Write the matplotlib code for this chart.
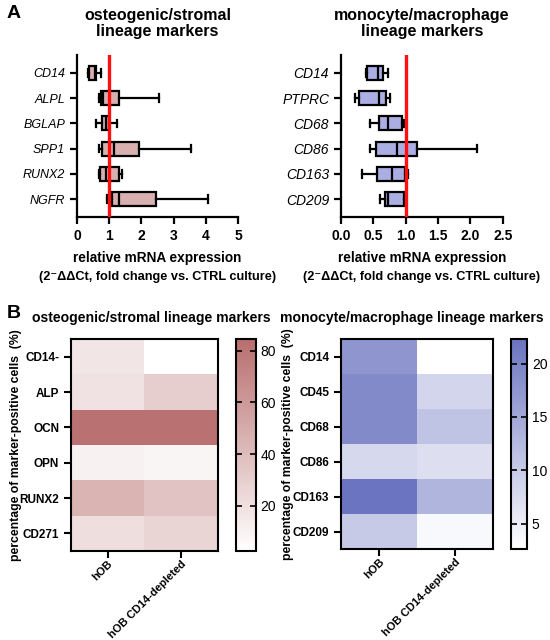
import matplotlib
matplotlib.use("Agg")
import matplotlib.pyplot as plt
import numpy as np
from matplotlib.colors import LinearSegmentedColormap

plt.rcParams['font.family'] = ['Liberation Sans', 'DejaVu Sans']

# --- panel A: qPCR box plots (min, q1, median, q3, max) ---
osteo_genes = ['CD14', 'ALPL', 'BGLAP', 'SPP1', 'RUNX2', 'NGFR']
osteo_min = [0.33, 0.69, 0.59, 0.69, 0.67, 0.93]
osteo_q1 = [0.38, 0.74, 0.79, 0.79, 0.70, 1.08]
osteo_med = [0.55, 0.82, 0.90, 1.16, 0.91, 1.29]
osteo_q3 = [0.59, 1.31, 1.00, 1.91, 1.30, 2.44]
osteo_max = [0.76, 2.55, 1.24, 3.53, 1.39, 4.05]

mono_genes = ['CD14', 'PTPRC', 'CD68', 'CD86', 'CD163', 'CD209']
mono_min = [0.39, 0.21, 0.45, 0.45, 0.33, 0.61]
mono_q1 = [0.40, 0.28, 0.58, 0.54, 0.55, 0.68]
mono_med = [0.57, 0.58, 0.73, 0.86, 0.79, 0.73]
mono_q3 = [0.65, 0.70, 0.94, 1.17, 0.99, 0.98]
mono_max = [0.73, 0.76, 0.97, 2.10, 1.04, 0.99]

# --- panel B: flow cytometry heatmaps (% positive cells) ---
groups = ['hOB', 'hOB CD14-depleted']
osteo_markers = ['CD14-', 'ALP', 'OCN', 'OPN', 'RUNX2', 'CD271']
osteo_hob = [17, 19, 82, 10, 45, 21]
osteo_depl = [2.5, 30, 82, 8, 36, 26]

mono_markers = ['CD14', 'CD45', 'CD68', 'CD86', 'CD163', 'CD209']
mono_hob = [17.5, 19, 19, 8, 22.3, 10]
mono_depl = [2.6, 8.5, 11, 7, 13, 3.5]

xlab1 = 'relative mRNA expression'
xlab2 = '(2\u207b\u0394\u0394Ct, fold change vs. CTRL culture)'

fig = plt.figure(figsize=(5.5, 6.4), dpi=100)


def box_panel(rect, genes, mn, q1, med, q3, mx, color, xmax, xticks, xticklabels, title, gsize):
    ax = fig.add_axes(rect)
    stats = []
    for i in range(len(genes)):
        stats.append(dict(whislo=mn[i], q1=q1[i], med=med[i], q3=q3[i], whishi=mx[i], label=genes[i]))
    ax.bxp(stats, positions=range(len(genes)), orientation='horizontal', widths=0.55,
           capwidths=0.3, showfliers=False, patch_artist=True,
           boxprops=dict(facecolor=color, edgecolor='black', linewidth=1.6),
           medianprops=dict(color='black', linewidth=1.6),
           whiskerprops=dict(color='black', linewidth=1.6),
           capprops=dict(color='black', linewidth=1.6))
    ax.axvline(1, color='#ff1010', linewidth=2.4, zorder=5)
    ax.set_ylim(5.7, -0.7)
    ax.set_xlim(0, xmax)
    ax.set_xticks(xticks)
    ax.set_xticklabels(xticklabels, fontweight='bold', fontsize=10)
    ax.set_yticks(range(len(genes)))
    ax.set_yticklabels(genes, fontstyle='italic', fontsize=gsize)
    for s in ['top', 'right']:
        ax.spines[s].set_visible(False)
    for s in ['left', 'bottom']:
        ax.spines[s].set_linewidth(1.6)
    ax.tick_params(width=1.6, length=5)
    ax.set_title(title, fontweight='bold', fontsize=11.5, pad=14, linespacing=1.05)
    cx = rect[0] + rect[2] / 2
    fig.text(cx, 1 - 258 / 640, xlab1, fontweight='bold', fontsize=9.8, ha='center', va='center')
    fig.text(cx, 1 - 277 / 640, xlab2, fontweight='bold', fontsize=9.2, ha='center', va='center')
    return ax


box_panel([0.140, 0.661, 0.293, 0.253], osteo_genes, osteo_min, osteo_q1, osteo_med,
          osteo_q3, osteo_max, '#d8b0b0', 5, [0, 1, 2, 3, 4, 5], ['0', '1', '2', '3', '4', '5'],
          'osteogenic/stromal\nlineage markers', 9)
box_panel([0.620, 0.661, 0.294, 0.253], mono_genes, mono_min, mono_q1, mono_med,
          mono_q3, mono_max, '#abaee2', 2.5, [0, 0.5, 1, 1.5, 2, 2.5],
          ['0.0', '0.5', '1.0', '1.5', '2.0', '2.5'],
          'monocyte/macrophage\nlineage markers', 10)


def heat_panel(rect, cbrect, markers, v1, v2, color, vmin, vmax, cticks, title, title_x, ylab_x):
    ax = fig.add_axes(rect)
    cmap = LinearSegmentedColormap.from_list('c', ['#ffffff', color])
    data = np.column_stack([v1, v2])
    im = ax.imshow(data, cmap=cmap, vmin=vmin, vmax=vmax, aspect='auto')
    ax.set_yticks(range(len(markers)))
    ax.set_yticklabels(markers, fontweight='bold', fontsize=8.5)
    ax.set_xticks([0, 1])
    ax.set_xticklabels(groups, fontweight='bold', fontsize=8, rotation=45,
                       ha='right', rotation_mode='anchor')
    for s in ax.spines.values():
        s.set_linewidth(1.5)
    ax.tick_params(width=1.5, length=5)
    ax.tick_params(axis='x', pad=0.5)
    ax.set_ylabel('percentage of marker-positive cells  (%)', fontweight='bold', fontsize=8.8)
    ax.yaxis.set_label_coords(ylab_x, 0.5)
    fig.text(title_x, 1 - 318 / 640, title, fontweight='bold', fontsize=10.1,
             ha='center', va='center')
    cax = fig.add_axes(cbrect)
    cb = fig.colorbar(im, cax=cax, ticks=cticks)
    cb.outline.set_linewidth(1.5)
    cax.tick_params(labelsize=10, width=1.2, length=4, direction='in', left=True, right=True)
    return ax


heat_panel([0.129, 0.139, 0.267, 0.331], [0.429, 0.139, 0.036, 0.331], osteo_markers,
           osteo_hob, osteo_depl, '#b86e6e', 2.5, 84.5, [20, 40, 60, 80],
           'osteogenic/stromal lineage markers', 0.276, -0.33)
heat_panel([0.620, 0.142, 0.276, 0.328], [0.929, 0.142, 0.029, 0.328], mono_markers,
           mono_hob, mono_depl, '#6b74c0', 2.6, 22.3, [5, 10, 15, 20],
           'monocyte/macrophage lineage markers', 0.748, -0.31)

fig.text(0.012, 1 - 13 / 640, 'A', fontweight='bold', fontsize=14, va='center')
fig.text(0.012, 1 - 313 / 640, 'B', fontweight='bold', fontsize=14, va='center')

fig.savefig('out.png', dpi=100)
